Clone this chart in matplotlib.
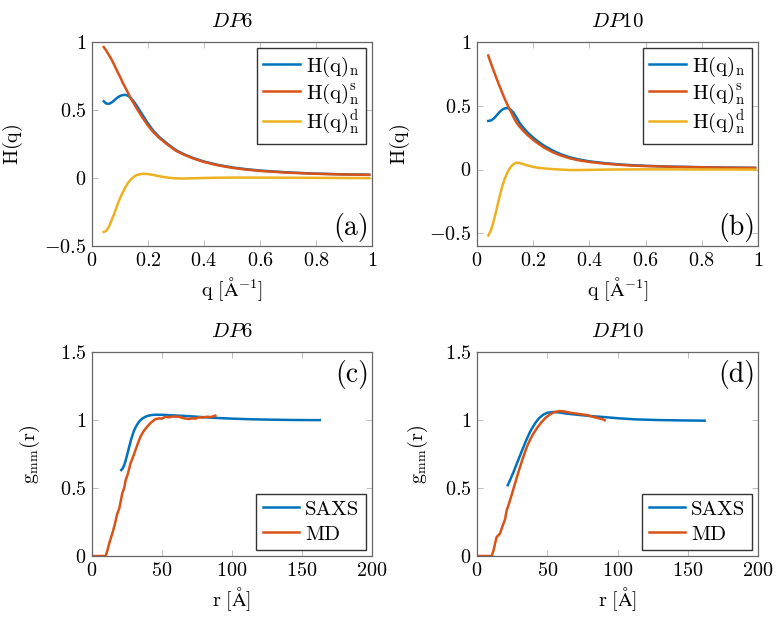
import matplotlib
matplotlib.use("Agg")
import matplotlib.pyplot as plt

plt.rcParams['font.family'] = 'serif'
plt.rcParams['font.serif'] = ['cmr10']
plt.rcParams['mathtext.fontset'] = 'cm'
plt.rcParams['axes.formatter.use_mathtext'] = True

# colours (matlab-like)
BLUE = '#0072bd'
RED = '#d95319'
YELLOW = '#edb120'

# ---- H(q), DP6 ----
q_a = [0.042, 0.05, 0.06, 0.07, 0.08, 0.09, 0.10, 0.11, 0.12, 0.13, 0.14, 0.15,
       0.16, 0.18, 0.20, 0.22, 0.24, 0.27, 0.30, 0.33, 0.36, 0.40, 0.45, 0.50,
       0.55, 0.60, 0.70, 0.80, 0.90, 0.99]
hn_a = [0.564, 0.548, 0.545, 0.555, 0.572, 0.59, 0.603, 0.61, 0.611, 0.603, 0.585, 0.56,
        0.53, 0.465, 0.40, 0.345, 0.302, 0.25, 0.205, 0.173, 0.148, 0.121, 0.096, 0.078,
        0.065, 0.055, 0.041, 0.032, 0.027, 0.024]
hs_a = [0.963, 0.94, 0.905, 0.87, 0.83, 0.785, 0.745, 0.70, 0.66, 0.62, 0.58, 0.545,
        0.51, 0.445, 0.385, 0.335, 0.295, 0.245, 0.20, 0.17, 0.145, 0.118, 0.093, 0.075,
        0.062, 0.052, 0.039, 0.031, 0.026, 0.023]
hd_a = [-0.397, -0.39, -0.36, -0.31, -0.26, -0.20, -0.15, -0.105, -0.065, -0.032, -0.008, 0.01,
        0.022, 0.031, 0.029, 0.022, 0.013, 0.003, -0.003, -0.004, -0.002, 0.0, 0.002, 0.003,
        0.003, 0.003, 0.002, 0.001, 0.0, -0.001]

# ---- H(q), DP10 ----
q_b = [0.04, 0.05, 0.06, 0.07, 0.08, 0.09, 0.10, 0.11, 0.12, 0.13, 0.14, 0.15,
       0.16, 0.18, 0.20, 0.22, 0.24, 0.27, 0.30, 0.33, 0.36, 0.40, 0.45, 0.50,
       0.55, 0.60, 0.70, 0.80, 0.90, 0.99]
hn_b = [0.381, 0.385, 0.40, 0.425, 0.45, 0.47, 0.48, 0.482, 0.468, 0.445, 0.41, 0.37,
        0.34, 0.29, 0.25, 0.215, 0.185, 0.148, 0.118, 0.096, 0.08, 0.064, 0.051, 0.041,
        0.034, 0.029, 0.022, 0.018, 0.015, 0.013]
hs_b = [0.894, 0.83, 0.77, 0.712, 0.655, 0.60, 0.548, 0.50, 0.455, 0.41, 0.37, 0.34,
        0.315, 0.27, 0.232, 0.2, 0.17, 0.135, 0.108, 0.088, 0.073, 0.059, 0.047, 0.038,
        0.031, 0.027, 0.021, 0.017, 0.014, 0.012]
hd_b = [-0.518, -0.475, -0.40, -0.31, -0.215, -0.13, -0.065, -0.015, 0.02, 0.042, 0.053, 0.052,
        0.045, 0.032, 0.02, 0.013, 0.008, 0.003, -0.001, -0.004, -0.004, -0.003, -0.001, 0.0,
        0.001, 0.001, 0.001, 0.0, 0.0, -0.001]

# ---- g_mm(r), DP6 ----
r_saxs_c = [20.9, 22, 23, 24, 25, 26, 28, 30, 32, 34, 36, 38, 40, 43, 46, 50, 55, 60, 66, 75,
            85, 100, 115, 130, 145, 162.7]
g_saxs_c = [0.632, 0.645, 0.668, 0.7, 0.74, 0.78, 0.86, 0.922, 0.963, 0.992, 1.011, 1.023, 1.031, 1.037,
            1.039, 1.038, 1.036, 1.033, 1.03, 1.024, 1.017, 1.01, 1.005, 1.002, 1.0, 0.999]
r_md_c = [0, 2, 4, 6, 8, 9.7, 11, 12.5, 14.5, 16, 18, 19.5, 21.6, 23, 24, 25.5, 27.5, 29,
          31.1, 33, 34.6, 37, 39.4, 42, 45.3, 48, 50, 52.5, 55, 58, 62, 64, 66, 69.1,
          72, 74, 76.3, 79, 82, 85, 88.1]
g_md_c = [0, 0, 0, 0, 0, 0, 0.04, 0.10, 0.165, 0.22, 0.31, 0.35, 0.46, 0.50, 0.557, 0.60, 0.68, 0.72,
          0.78, 0.835, 0.877, 0.92, 0.951, 0.98, 1.007, 1.012, 1.01, 1.024, 1.02, 1.026, 1.024, 1.018,
          1.012, 1.007, 1.012, 1.01, 1.02, 1.018, 1.024, 1.022, 1.032]

# ---- g_mm(r), DP10 ----
r_saxs_d = [21.9, 24, 26, 28, 30.6, 33, 35.4, 38, 41.3, 44, 47.3, 50, 54.4, 58, 63.8, 70,
            75.7, 82, 90, 100, 112, 127.6, 145, 162]
g_saxs_d = [0.52, 0.57, 0.618, 0.67, 0.738, 0.80, 0.86, 0.918, 0.975, 1.012, 1.04, 1.053,
            1.059, 1.056, 1.047, 1.04, 1.034, 1.028, 1.022, 1.013, 1.005, 1.0, 0.997, 0.995]
r_md_d = [0, 3, 6, 9, 10.5, 12, 12.8, 14, 15, 16.4, 17.5, 18.8, 20, 21.1, 22.3, 23.5, 25, 27,
          29, 30.6, 33, 35.4, 38, 40.1, 43, 46, 49, 52, 55, 59, 62, 66.2, 70, 75.7, 79,
          82.8, 86, 90, 90.9]
g_md_d = [0, 0, 0, 0, 0, 0.05, 0.09, 0.14, 0.15, 0.165, 0.2, 0.238, 0.27, 0.336, 0.37, 0.41, 0.46, 0.532,
          0.6, 0.654, 0.73, 0.80, 0.86, 0.899, 0.945, 0.985, 1.018, 1.042, 1.058, 1.066, 1.063, 1.054,
          1.048, 1.04, 1.034, 1.022, 1.015, 1.003, 0.998]

q_ticks = [0, 0.2, 0.4, 0.6, 0.8, 1]
h_ticks = [-0.5, 0, 0.5, 1]
r_ticks = [0, 50, 100, 150, 200]
g_ticks = [0, 0.5, 1, 1.5]

h_labels = [r'$\mathrm{H(q)_n}$', r'$\mathrm{H(q)_n^s}$', r'$\mathrm{H(q)_n^d}$']
g_labels = ['SAXS', 'MD']
titles = [r'$DP6$', r'$DP10$', r'$DP6$', r'$DP10$']

FS = 14.5


def fmt(v):
    return '$%g$' % v


def style(ax, xt, yt):
    ax.set_xticks(xt)
    ax.set_xticklabels([fmt(v) for v in xt])
    ax.set_yticks(yt)
    ax.set_yticklabels([fmt(v) for v in yt])
    ax.tick_params(direction='in', top=True, right=True, length=4.5, width=0.6,
                   color='#b3b3b3', labelsize=FS, pad=4)
    for s in ax.spines.values():
        s.set_color('#666666')
        s.set_linewidth(0.9)


def legend(ax, loc, spacing):
    ax.legend(loc=loc, fontsize=FS + 0.5, frameon=True, fancybox=False,
              edgecolor='#333333', framealpha=1, handlelength=1.75, handletextpad=0.3,
              labelspacing=spacing, borderaxespad=0.3, borderpad=0.3)


fig = plt.figure(figsize=(7.81, 6.22), dpi=100)
W, H = 781, 622
boxes = [(92, 42, 372, 246), (477, 42, 758, 246), (92, 352, 372, 556), (477, 352, 758, 556)]
axes = [fig.add_axes([l / W, 1 - b / H, (r - l) / W, (b - t) / H]) for l, t, r, b in boxes]
lw = 1.8
ylabel_x = [-0.239, -0.231, -0.179, -0.167]

for ax, q, hn, hs, hd, ylim, tag in [(axes[0], q_a, hn_a, hs_a, hd_a, (-0.5, 1), '(a)'),
                                     (axes[1], q_b, hn_b, hs_b, hd_b, (-0.6, 1), '(b)')]:
    ax.plot(q, hn, color=BLUE, lw=lw, label=h_labels[0])
    ax.plot(q, hs, color=RED, lw=lw, label=h_labels[1])
    ax.plot(q, hd, color=YELLOW, lw=lw, label=h_labels[2])
    ax.set_xlim(0, 1)
    ax.set_ylim(*ylim)
    style(ax, q_ticks, h_ticks)
    ax.set_xlabel(r'$\mathrm{q\ [\AA^{-1}]}$', fontsize=FS)
    ax.set_ylabel(r'$\mathrm{H(q)}$', fontsize=FS)
    legend(ax, 'upper right', 0.1)
    ax.text(0.99, 0.02, tag, transform=ax.transAxes, ha='right', va='bottom', fontsize=20)

for ax, rs, gs, rm, gm, tag in [(axes[2], r_saxs_c, g_saxs_c, r_md_c, g_md_c, '(c)'),
                                (axes[3], r_saxs_d, g_saxs_d, r_md_d, g_md_d, '(d)')]:
    ax.plot(rs, gs, color=BLUE, lw=lw, label=g_labels[0])
    ax.plot(rm, gm, color=RED, lw=lw, label=g_labels[1])
    ax.set_xlim(0, 200)
    ax.set_ylim(0, 1.5)
    style(ax, r_ticks, g_ticks)
    ax.set_xlabel(r'$\mathrm{r\ [\AA]}$', fontsize=FS)
    ax.set_ylabel(r'$\mathrm{g_{mm}(r)}$', fontsize=FS)
    legend(ax, 'lower right', 0.3)
    ax.text(0.99, 0.96, tag, transform=ax.transAxes, ha='right', va='top', fontsize=20)

for ax, t, lx in zip(axes, titles, ylabel_x):
    ax.set_title(t, fontsize=FS + 0.5, pad=11)
    ax.yaxis.set_label_coords(lx, 0.5)

fig.savefig('out.png', dpi=100)
